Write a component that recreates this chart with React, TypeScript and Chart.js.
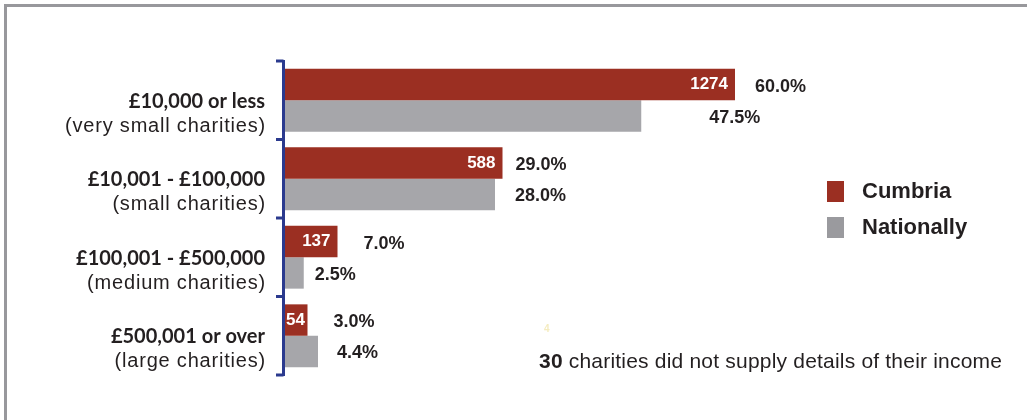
import React, { useEffect, useRef } from "react";
import { Chart, registerables } from "chart.js";

Chart.register(...registerables);

const categoryTitles = ["£10,000 or less", "£10,001 - £100,000", "£100,001 - £500,000", "£500,001 or over"];
const categorySubtitles = ["(very small charities)", "(small charities)", "(medium charities)", "(large charities)"];
const seriesNames = ["Cumbria", "Nationally"];
const cumbriaPercent = [60.0, 29.0, 7.0, 3.0];
const nationalPercent = [47.5, 28.0, 2.5, 4.4];
const cumbriaCounts = [1274, 588, 137, 54];
const noteCount = "30";
const noteText = " charities did not supply details of their income";

// label gaps (px) to the right of each bar end, as in the original layout
const cumbriaLabelGap = [20, 13, 26, 26];
const nationalLabelGap = [68, 20, 11, 19];

const RED = "#9b2f22";
const GREY = "#a6a6aa";
const LEGEND_GREY = "#9a9a9e";
const TEXT = "#231f20";
const AXIS_BLUE = "#2b3a8e";
const SANS = '"Liberation Sans", Arial, sans-serif';
const TITLE_FONT = 'Lato, "Liberation Sans", sans-serif';

const customPlugin = {
  id: "customDraw",
  beforeDraw(chart: any) {
    const ctx = chart.ctx;
    ctx.save();
    ctx.fillStyle = "#ffffff";
    ctx.fillRect(0, 0, chart.width, chart.height);
    ctx.fillStyle = "#98989c";
    ctx.fillRect(4, 4, chart.width - 4, 3);
    ctx.fillRect(4, 4, 3, chart.height - 4);
    ctx.restore();
  },
  afterDatasetsDraw(chart: any) {
    const ctx = chart.ctx;
    const yScale = chart.scales.y;
    const area = chart.chartArea;
    const n = categoryTitles.length;
    const step = yScale.getPixelForValue(1) - yScale.getPixelForValue(0);
    const top = yScale.getPixelForValue(0) - step / 2;
    const bottom = yScale.getPixelForValue(n - 1) + step / 2;
    ctx.save();

    // axis line with bracket ticks
    ctx.strokeStyle = AXIS_BLUE;
    ctx.lineWidth = 3;
    ctx.beginPath();
    ctx.moveTo(area.left - 1.5, top - 1);
    ctx.lineTo(area.left - 1.5, bottom + 1);
    for (let i = 0; i <= n; i++) {
      const y = top + i * step;
      ctx.moveTo(area.left - 9, y);
      ctx.lineTo(area.left - 1.5, y);
    }
    ctx.stroke();

    // category labels
    ctx.fillStyle = TEXT;
    ctx.textAlign = "right";
    ctx.textBaseline = "middle";
    for (let i = 0; i < n; i++) {
      const cy = yScale.getPixelForValue(i);
      ctx.font = `bold 20px ${TITLE_FONT}`;
      (ctx as any).letterSpacing = "0px";
      ctx.fillText(categoryTitles[i], 265, cy + 1);
      ctx.font = `20px ${SANS}`;
      (ctx as any).letterSpacing = "0.8px";
      ctx.fillText(categorySubtitles[i], 266, cy + 26);
    }
    (ctx as any).letterSpacing = "0px";

    // value labels
    const metaC = chart.getDatasetMeta(0);
    const metaN = chart.getDatasetMeta(1);
    for (let i = 0; i < n; i++) {
      const barC = metaC.data[i];
      const barN = metaN.data[i];
      // count inside red bar
      ctx.font = `bold 17px ${SANS}`;
      ctx.fillStyle = "#ffffff";
      const countStr = String(cumbriaCounts[i]);
      const w = ctx.measureText(countStr).width;
      let xr = barC.x - 7;
      if (xr - w < area.left + 1) xr = area.left + 1 + w;
      ctx.textAlign = "right";
      ctx.fillText(countStr, xr, barC.y);
      // percentages
      ctx.font = `bold 18px ${SANS}`;
      ctx.fillStyle = TEXT;
      ctx.textAlign = "left";
      ctx.fillText(cumbriaPercent[i].toFixed(1) + "%", barC.x + cumbriaLabelGap[i], barC.y + 2);
      ctx.fillText(nationalPercent[i].toFixed(1) + "%", barN.x + nationalLabelGap[i], barN.y + 2);
    }

    // legend
    const dsets = chart.data.datasets;
    const legendColors = [RED, LEGEND_GREY];
    for (let k = 0; k < dsets.length; k++) {
      const ly = 181 + k * 36;
      ctx.fillStyle = legendColors[k];
      ctx.fillRect(827, ly, 17, 21);
      ctx.fillStyle = TEXT;
      ctx.font = `bold 22px ${SANS}`;
      ctx.textAlign = "left";
      ctx.textBaseline = "middle";
      ctx.fillText(dsets[k].label, 862, ly + 11);
    }

    // note
    ctx.textBaseline = "middle";
    ctx.font = `bold 21px ${SANS}`;
    ctx.fillStyle = TEXT;
    (ctx as any).letterSpacing = "0.2px";
    ctx.fillText(noteCount, 539, 362);
    const nw = ctx.measureText(noteCount).width;
    ctx.font = `21px ${SANS}`;
    ctx.fillText(noteText, 539 + nw, 362);
    (ctx as any).letterSpacing = "0px";

    // faint stray digit
    ctx.font = `bold 10px ${SANS}`;
    ctx.fillStyle = "#f5ecc0";
    ctx.fillText("4", 544, 329);

    ctx.restore();
  },
};

export default function App() {
  const canvasRef = useRef<HTMLCanvasElement | null>(null);

  useEffect(() => {
    if (!canvasRef.current) return;
    const chart = new Chart(canvasRef.current, {
      type: "bar",
      data: {
        labels: categoryTitles,
        datasets: [
          {
            label: seriesNames[0],
            data: cumbriaPercent,
            backgroundColor: RED,
            borderWidth: 0,
            categoryPercentage: 0.8,
            barPercentage: 1.0,
          },
          {
            label: seriesNames[1],
            data: nationalPercent,
            backgroundColor: GREY,
            borderWidth: 0,
            categoryPercentage: 0.8,
            barPercentage: 1.0,
          },
        ],
      },
      options: {
        indexAxis: "y",
        responsive: false,
        animation: false,
        devicePixelRatio: 1,
        layout: { padding: { left: 285, right: 217, top: 61, bottom: 45 } },
        scales: {
          x: { type: "linear", min: 0, max: 70, display: false },
          y: { type: "category", display: false },
        },
        plugins: {
          legend: { display: false },
          tooltip: { enabled: false },
        },
      },
      plugins: [customPlugin],
    });
    return () => chart.destroy();
  }, []);

  return (
    <div style={{ position: "fixed", left: 0, top: 0, width: 1027, height: 420, background: "#fff" }}>
      <canvas ref={canvasRef} width={1027} height={420} style={{ display: "block" }} />
    </div>
  );
}
